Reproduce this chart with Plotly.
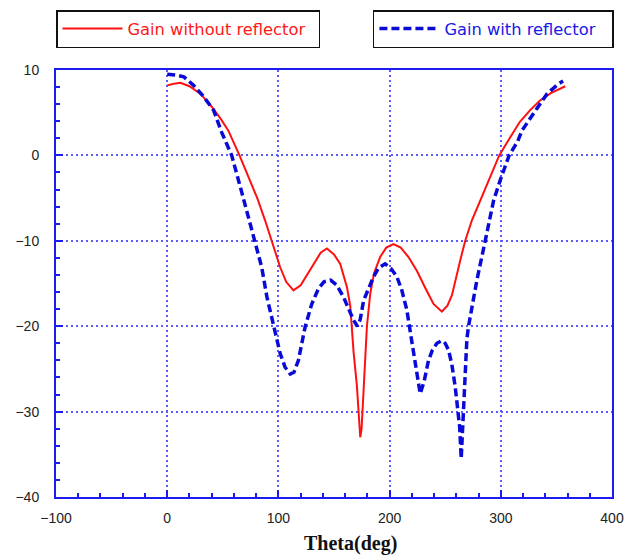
import plotly.graph_objects as go

# Gain pattern without the reflector (deg, dB)
theta_without = [0, 6, 12, 20, 30, 40, 48, 55, 65, 73, 81, 88, 94, 101.6, 107,
                 113.5, 120, 126, 132, 138, 143.6, 150, 155.6, 161.6, 164.6,
                 167.6, 170.6, 172.5, 173.6, 174.8, 176.6, 179.6, 182.6, 186,
                 191.5, 197, 203.5, 210, 217, 224.5, 232, 239.5, 247, 252, 256,
                 259, 263.5, 268, 274, 281.5, 290.5, 298.6, 307, 317, 326.4,
                 335, 345, 358]
gain_without = [8.2, 8.4, 8.5, 8.1, 7.2, 5.7, 4.3, 2.9, 0, -2.4, -5, -7.6, -10,
                -13.1, -14.8, -15.8, -15.2, -13.9, -12.6, -11.4, -10.9, -11.6,
                -12.7, -15.4, -17.6, -23, -27, -31, -33, -32, -27, -20, -16.2,
                -13.8, -11.9, -10.8, -10.4, -10.8, -11.9, -13.5, -15.5, -17.4,
                -18.3, -17.6, -16.4, -14.6, -12.3, -10, -7.6, -5.3, -2.5, 0,
                1.8, 3.9, 5.3, 6.4, 7.3, 8.1]

# Gain pattern with the reflector (deg, dB)
theta_with = [0, 8, 15, 23.7, 32, 41.7, 49, 58, 67, 74.6, 79, 85, 89.7, 95,
              101.6, 106, 110.6, 114, 118, 124, 130, 136, 141, 147, 152.6,
              158.6, 163, 167.6, 171, 173.6, 176.6, 181, 185.6, 190, 196, 201,
              206.5, 211, 215.5, 219, 223, 227.5, 231, 235, 238.5, 242.5, 247,
              250, 253, 256, 259, 261, 263, 264.4, 266, 268, 269.5, 271, 278.5,
              286, 293.5, 299.5, 305.5, 307.5, 315, 319, 332.5, 341.5, 352, 356]
gain_with = [9.5, 9.4, 9.2, 8.2, 7.0, 5.3, 2.7, 0, -4.3, -8, -10, -13.1, -16.6,
             -19.6, -23.2, -24.8, -25.6, -25.4, -24, -20.1, -17.4, -15.6, -14.8,
             -14.6, -15.2, -16.6, -18, -19.3, -20, -19.2, -17, -15.5, -14.2,
             -13.2, -12.7, -13.2, -14.2, -15.8, -18.1, -21, -24, -27.9, -26.5,
             -24, -22.8, -22, -21.7, -22, -22.8, -24.5, -27.1, -29.5, -31.8,
             -35.5, -31, -25.2, -21.5, -20, -14.6, -10, -5.3, -2.9, -0.6, 0,
             1.6, 2.9, 5.5, 7.2, 8.4, 8.7]

x_ticks = [-100, 0, 100, 200, 300, 400]
y_ticks = [-40, -30, -20, -10, 0, 10]
x_range = [-100, 400]
y_range = [-40, 10]
x_title = "Theta(deg)"

AXIS_BLUE = "#1c1cf0"
GRID_BLUE = "#5a5aff"
SANS = "Arial, Liberation Sans, sans-serif"
WIDE_SANS = "DejaVu Sans, sans-serif"

fig = go.Figure()
fig.add_trace(go.Scatter(
    x=theta_without, y=gain_without, mode="lines",
    name="Gain without reflector", legend="legend",
    line=dict(color="#ff1010", width=2),
))
fig.add_trace(go.Scatter(
    x=theta_with, y=gain_with, mode="lines",
    name="Gain with reflector", legend="legend2",
    line=dict(color="#0a0ad8", width=3.5, dash="8px,4px"),
))

tick_style = dict(ticks="inside", tickcolor=AXIS_BLUE, tickwidth=1.5, ticklen=7)
minor_style = dict(ticks="inside", ticklen=4, tickcolor=AXIS_BLUE,
                   tickwidth=1.5, showgrid=False)

axis_common = dict(
    showline=True, linecolor=AXIS_BLUE, linewidth=2, mirror=True,
    showgrid=True, gridcolor=GRID_BLUE, gridwidth=1.5, griddash="2px,3px",
    zeroline=False, automargin=False,
    tickfont=dict(family=SANS, size=14, color="#222222"),
    **tick_style,
)
overlay_common = dict(
    showticklabels=False, showgrid=False, zeroline=False, showline=False,
    automargin=False, **tick_style,
)

fig.update_layout(
    xaxis=dict(range=x_range, tickvals=x_ticks,
               minor=dict(dtick=20, **minor_style),
               ticklabelstandoff=7, **axis_common),
    yaxis=dict(range=y_range, tickvals=y_ticks,
               minor=dict(dtick=2, **minor_style),
               ticklabelstandoff=12, **axis_common),
    # tick marks repeated along the top and right edges of the frame
    xaxis2=dict(range=x_range, tickvals=x_ticks, overlaying="x", side="top",
                minor=dict(dtick=20, **minor_style), **overlay_common),
    yaxis2=dict(range=y_range, tickvals=y_ticks, overlaying="y", side="right",
                minor=dict(dtick=2, **minor_style), **overlay_common),
)

legend_common = dict(
    xref="paper", yref="container", y=1 - 10 / 556,
    yanchor="top", xanchor="left", orientation="h",
    bordercolor="#111111", borderwidth=1.5, bgcolor="white",
    itemwidth=60, tracegroupgap=0, entrywidthmode="pixels",
)

fig.update_layout(
    width=629, height=556,
    margin=dict(l=56, r=17, t=70, b=59),
    paper_bgcolor="white", plot_bgcolor="white",
    showlegend=True,
    legend=dict(x=0, entrywidth=186,
                font=dict(family=WIDE_SANS, size=16.3, color="#ff1818"),
                **legend_common),
    legend2=dict(x=0.570, entrywidth=163,
                 font=dict(family=WIDE_SANS, size=16.3, color="#1818e8"),
                 **legend_common),
    annotations=[dict(
        text=x_title, xref="paper", yref="paper", x=0.529, y=-0.108,
        xanchor="center", yanchor="middle", showarrow=False,
        font=dict(family="Times New Roman, Liberation Serif, serif",
                  size=20, color="#111111", weight="bold"),
    )],
)

fig.write_html("out.html")
